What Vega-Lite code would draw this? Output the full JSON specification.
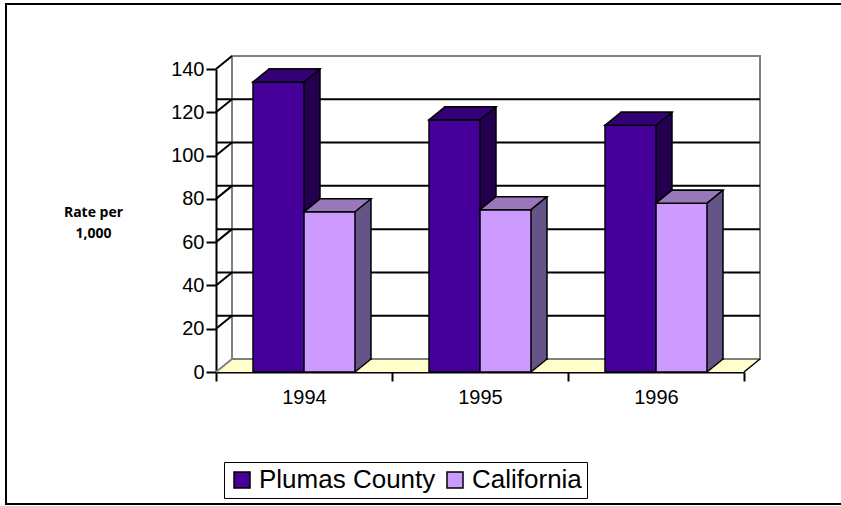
{
  "$schema": "https://vega.github.io/schema/vega-lite/v6.json",
  "width": 528,
  "height": 303,
  "autosize": {"type": "none"},
  "padding": {"left": 216, "top": 69, "right": 97, "bottom": 134},
  "background": "white",
  "config": {
    "view": {"stroke": null},
    "font": "Liberation Sans",
    "axisX": {"labelAngle": 0, "tickBand": "extent", "tickSize": 9, "tickWidth": 2, "tickColor": "black", "domainColor": "black", "domainWidth": 2, "labelFontSize": 20, "labelFont": "Liberation Sans", "labelColor": "black", "labelPadding": 6, "grid": false},
    "axisY": {"titleAngle": 0, "titleAlign": "center", "titleBaseline": "top", "titleX": -123, "titleY": 136, "titleFont": "Open Sans", "titleFontSize": 14, "titleFontWeight": "bold", "titleLineHeight": 21, "titleColor": "black", "tickCount": 7, "grid": false, "tickSize": 10, "tickWidth": 2, "tickColor": "black", "domainColor": "black", "domainWidth": 2, "labelFontSize": 20, "labelFont": "Liberation Sans", "labelColor": "black", "labelPadding": 2}
  },
  "datasets": {
    "rates": [
      {"year": "1994", "series": "Plumas County", "value": 134},
      {"year": "1994", "series": "California", "value": 74},
      {"year": "1995", "series": "Plumas County", "value": 116.5},
      {"year": "1995", "series": "California", "value": 75},
      {"year": "1996", "series": "Plumas County", "value": 114},
      {"year": "1996", "series": "California", "value": 78}
    ],
    "gridlines": [
      {"v": 0}, {"v": 20}, {"v": 40}, {"v": 60}, {"v": 80}, {"v": 100}, {"v": 120}, {"v": 140}
    ],
    "frame": [{"k": 1}]
  },
  "layer": [
    {
      "data": {"name": "frame"},
      "mark": {"type": "rule", "stroke": "black", "strokeWidth": 2},
      "encoding": {"x": {"value": -210}, "x2": {"value": 700}, "y": {"value": -65}}
    },
    {
      "data": {"name": "frame"},
      "mark": {"type": "rule", "stroke": "black", "strokeWidth": 2},
      "encoding": {"x": {"value": -210}, "x2": {"value": 700}, "y": {"value": 435}}
    },
    {
      "data": {"name": "frame"},
      "mark": {"type": "rule", "stroke": "black", "strokeWidth": 2},
      "encoding": {"x": {"value": -210}, "y": {"value": -66}, "y2": {"value": 436}}
    },
    {
      "data": {"name": "frame"},
      "mark": {"type": "rect", "fill": "#ffffcc", "xOffset": 16, "y2Offset": -13},
      "encoding": {
        "x": {"value": 0}, "x2": {"value": "width"},
        "y": {"datum": 0, "type": "quantitative", "scale": {"domain": [0, 140], "nice": false}, "title": ["Rate per", "1,000"]},
        "y2": {"datum": 0}
      }
    },
    {
      "data": {"name": "frame"},
      "mark": {"type": "point", "shape": "M0,0 L16,-13 L16,0 Z", "size": 4, "filled": true, "fill": "#ffffcc", "strokeWidth": 0, "opacity": 1},
      "encoding": {"x": {"value": 0}, "y": {"datum": 0, "type": "quantitative", "scale": {"domain": [0, 140], "nice": false}, "title": ["Rate per", "1,000"]}}
    },
    {
      "data": {"name": "frame"},
      "mark": {"type": "point", "shape": "M0,0 L16,-13 L0,-13 Z", "size": 4, "filled": true, "fill": "#ffffcc", "strokeWidth": 0, "opacity": 1},
      "encoding": {"x": {"value": "width"}, "y": {"datum": 0, "type": "quantitative", "scale": {"domain": [0, 140], "nice": false}, "title": ["Rate per", "1,000"]}}
    },
    {
      "data": {"name": "frame"},
      "mark": {"type": "rect", "fill": "white", "stroke": "#808080", "strokeWidth": 2, "xOffset": 16, "x2Offset": 16, "yOffset": -13, "y2Offset": -13},
      "encoding": {
        "x": {"value": 0}, "x2": {"value": "width"},
        "y": {"datum": 140, "type": "quantitative", "scale": {"domain": [0, 140], "nice": false}, "title": ["Rate per", "1,000"]},
        "y2": {"datum": 0}
      }
    },
    {
      "data": {"name": "frame"},
      "mark": {"type": "point", "shape": "M0,0 L16,-13", "size": 4, "filled": false, "stroke": "#808080", "strokeWidth": 2, "opacity": 1},
      "encoding": {"x": {"value": 0}, "y": {"datum": 0, "type": "quantitative", "scale": {"domain": [0, 140], "nice": false}, "title": ["Rate per", "1,000"]}}
    },
    {
      "data": {"name": "frame"},
      "mark": {"type": "point", "shape": "M0,0 L16,-13", "size": 4, "filled": false, "stroke": "black", "strokeWidth": 1.5, "opacity": 1},
      "encoding": {"x": {"value": "width"}, "y": {"datum": 0, "type": "quantitative", "scale": {"domain": [0, 140], "nice": false}, "title": ["Rate per", "1,000"]}}
    },
    {
      "data": {"name": "gridlines"},
      "transform": [{"filter": "datum.v > 0 && datum.v < 140"}],
      "mark": {"type": "rule", "stroke": "black", "strokeWidth": 2, "xOffset": 16, "x2Offset": 16, "yOffset": -13},
      "encoding": {"y": {"field": "v", "type": "quantitative", "scale": {"domain": [0, 140], "nice": false}, "title": ["Rate per", "1,000"]}}
    },
    {
      "data": {"name": "gridlines"},
      "transform": [{"filter": "datum.v > 0"}],
      "mark": {"type": "point", "shape": "M0,0 L16,-13", "size": 4, "filled": false, "stroke": "black", "strokeWidth": 2, "opacity": 1},
      "encoding": {"x": {"value": 0}, "y": {"field": "v", "type": "quantitative", "scale": {"domain": [0, 140], "nice": false}, "title": ["Rate per", "1,000"]}}
    },
    {
      "data": {"name": "rates"},
      "transform": [{"filter": "datum.series === 'Plumas County'"}],
      "mark": {"type": "bar", "width": {"band": 0.28977}, "fill": "#22004f", "stroke": "black", "strokeWidth": 1.5, "xOffset": -9.5, "yOffset": -13, "y2Offset": -13},
      "encoding": {
        "x": {"field": "year", "type": "nominal", "scale": {"paddingInner": 0, "paddingOuter": 0}, "title": null},
        "y": {"field": "value", "type": "quantitative", "scale": {"domain": [0, 140], "nice": false}, "title": ["Rate per", "1,000"]}
      }
    },
    {
      "data": {"name": "rates"},
      "transform": [{"filter": "datum.series === 'California'"}],
      "mark": {"type": "bar", "width": {"band": 0.28977}, "fill": "#655487", "stroke": "black", "strokeWidth": 1.5, "xOffset": 41.5, "yOffset": -13, "y2Offset": -13},
      "encoding": {
        "x": {"field": "year", "type": "nominal", "scale": {"paddingInner": 0, "paddingOuter": 0}, "title": null},
        "y": {"field": "value", "type": "quantitative", "scale": {"domain": [0, 140], "nice": false}, "title": ["Rate per", "1,000"]}
      }
    },
    {
      "data": {"name": "rates"},
      "transform": [{"filter": "datum.series === 'California'"}],
      "mark": {"type": "point", "shape": "M51,0 L66,-12.2 L66,-14 L51,-14 Z", "size": 4, "filled": true, "fill": "#655487", "strokeWidth": 0, "opacity": 1},
      "encoding": {
        "x": {"field": "year", "type": "nominal", "scale": {"paddingInner": 0, "paddingOuter": 0}, "title": null},
        "y": {"datum": 0, "type": "quantitative", "scale": {"domain": [0, 140], "nice": false}, "title": ["Rate per", "1,000"]}
      }
    },
    {
      "data": {"name": "rates"},
      "transform": [{"filter": "datum.series === 'California'"}],
      "mark": {"type": "point", "shape": "M51,0 L67,-13", "size": 4, "filled": false, "stroke": "black", "strokeWidth": 1.5, "opacity": 1},
      "encoding": {
        "x": {"field": "year", "type": "nominal", "scale": {"paddingInner": 0, "paddingOuter": 0}, "title": null},
        "y": {"datum": 0, "type": "quantitative", "scale": {"domain": [0, 140], "nice": false}, "title": ["Rate per", "1,000"]}
      }
    },
    {
      "data": {"name": "rates"},
      "transform": [{"filter": "datum.series === 'Plumas County'"}],
      "mark": {"type": "bar", "width": {"band": 0.28977}, "stroke": "black", "strokeWidth": 1.5, "xOffset": -25.5},
      "encoding": {
        "x": {"field": "year", "type": "nominal", "scale": {"paddingInner": 0, "paddingOuter": 0}, "title": null},
        "y": {"field": "value", "type": "quantitative", "scale": {"domain": [0, 140], "nice": false}, "title": ["Rate per", "1,000"]},
        "color": {"field": "series", "type": "nominal", "scale": {"domain": ["Plumas County", "California"], "range": ["#440099", "#cc99ff"]}}
      }
    },
    {
      "data": {"name": "rates"},
      "transform": [{"filter": "datum.series === 'California'"}],
      "mark": {"type": "bar", "width": {"band": 0.28977}, "stroke": "black", "strokeWidth": 1.5, "xOffset": 25.5},
      "encoding": {
        "x": {"field": "year", "type": "nominal", "scale": {"paddingInner": 0, "paddingOuter": 0}, "title": null},
        "y": {"field": "value", "type": "quantitative", "scale": {"domain": [0, 140], "nice": false}, "title": ["Rate per", "1,000"]},
        "color": {
          "field": "series", "type": "nominal",
          "scale": {"domain": ["Plumas County", "California"], "range": ["#440099", "#cc99ff"]},
          "legend": {"title": null, "orient": "none", "legendX": 8, "legendY": 393, "direction": "horizontal", "symbolType": "square", "symbolSize": 256, "symbolStrokeColor": "black", "symbolStrokeWidth": 1.5, "labelFontSize": 26, "labelFont": "Liberation Sans", "labelColor": "black", "strokeColor": "black", "fillColor": "white", "padding": 5, "columnPadding": 6, "labelOffset": 4, "labelLimit": 400}
        }
      }
    },
    {
      "data": {"name": "rates"},
      "mark": {"type": "point", "size": 4, "filled": true, "stroke": "black", "strokeWidth": 1.5, "opacity": 1},
      "encoding": {
        "x": {"field": "year", "type": "nominal", "scale": {"paddingInner": 0, "paddingOuter": 0}, "title": null},
        "y": {"field": "value", "type": "quantitative", "scale": {"domain": [0, 140], "nice": false}, "title": ["Rate per", "1,000"]},
        "shape": {"condition": {"test": "datum.series === 'Plumas County'", "value": "M-51,0 L0,0 L16,-13 L-35,-13 Z"}, "value": "M0,0 L51,0 L67,-13 L16,-13 Z"},
        "fill": {"condition": {"test": "datum.series === 'Plumas County'", "value": "#330077"}, "value": "#9977bb"}
      }
    }
  ]
}
